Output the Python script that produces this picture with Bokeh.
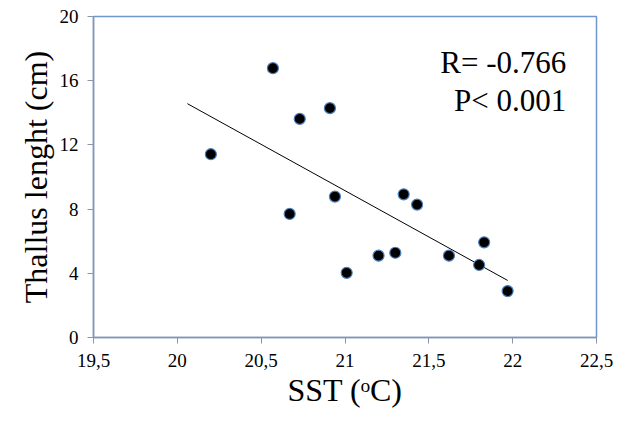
import numpy as np
from bokeh.plotting import figure
from bokeh.models import Label, FixedTicker, ColumnDataSource
from bokeh.embed import file_html
from bokeh.resources import INLINE

# data
sst = [20.20, 20.57, 20.73, 20.67, 20.91, 20.94, 21.01, 21.20, 21.30, 21.35, 21.43, 21.62, 21.80, 21.83, 21.97]
thallus = [11.42, 16.78, 13.62, 7.70, 14.29, 8.78, 4.03, 5.10, 5.28, 8.92, 8.28, 5.10, 4.52, 5.93, 2.89]

x_ticks = [19.5, 20.0, 20.5, 21.0, 21.5, 22.0, 22.5]
x_tick_labels = ["19,5", "20", "20,5", "21", "21,5", "22", "22,5"]
y_ticks = [0, 4, 8, 12, 16, 20]
y_tick_labels = ["0", "4", "8", "12", "16", "20"]

trend_x = [20.06, 21.97]
stats_lines = ["R= -0.766", "P< 0.001"]

FONT = "Liberation Serif"

p = figure(width=620, height=412, x_range=(19.5, 22.5), y_range=(0, 20),
           output_backend="svg", toolbar_location=None,
           min_border_left=93, min_border_right=24, min_border_top=16, min_border_bottom=75)
p.xgrid.visible = False
p.ygrid.visible = False
p.outline_line_color = "#6F97CB"
p.outline_line_width = 1.5
p.background_fill_color = "white"
p.border_fill_color = "white"

for ax in (p.xaxis[0], p.yaxis[0]):
    ax.axis_line_color = "#8A96A8"
    ax.axis_line_width = 1.5
    ax.major_tick_line_color = "#8A96A8"
    ax.major_tick_line_width = 1
    ax.major_tick_in = 0
    ax.major_tick_out = 6
    ax.minor_tick_line_color = None
    ax.major_label_text_font = FONT
    ax.major_label_text_font_size = "19px"
    ax.major_label_text_color = "black"
    ax.axis_label_text_font = FONT
    ax.axis_label_text_font_size = "32px"
    ax.axis_label_text_font_style = "normal"
    ax.axis_label_text_color = "black"

p.xaxis.ticker = FixedTicker(ticks=x_ticks)
p.xaxis.major_label_overrides = dict(zip(x_ticks, x_tick_labels))
p.yaxis.ticker = FixedTicker(ticks=y_ticks)
p.yaxis.major_label_overrides = dict(zip(y_ticks, y_tick_labels))
p.xaxis.major_label_standoff = 10
p.yaxis.major_label_standoff = 9
p.xaxis.axis_label = "SST (\u1d52C)"
p.yaxis.axis_label = "Thallus lenght (cm)"
p.xaxis.axis_label_standoff = 2
p.yaxis.axis_label_standoff = 3

# linear regression trendline
slope, intercept = np.polyfit(sst, thallus, 1)
trend_y = [slope * xv + intercept for xv in trend_x]
p.line(trend_x, trend_y, line_color="black", line_width=1)

src = ColumnDataSource(dict(x=sst, y=thallus))
p.scatter("x", "y", source=src, size=11, fill_color="black",
          line_color="#4A7EBB", line_width=1.2)

for i, txt in enumerate(stats_lines):
    p.add_layout(Label(x=22.32, y=17.12 - i * 2.35, text=txt, text_align="right",
                       text_baseline="alphabetic", text_font=FONT,
                       text_font_size="31px", text_color="black"))

open("out.html", "w").write(file_html(p, INLINE))
